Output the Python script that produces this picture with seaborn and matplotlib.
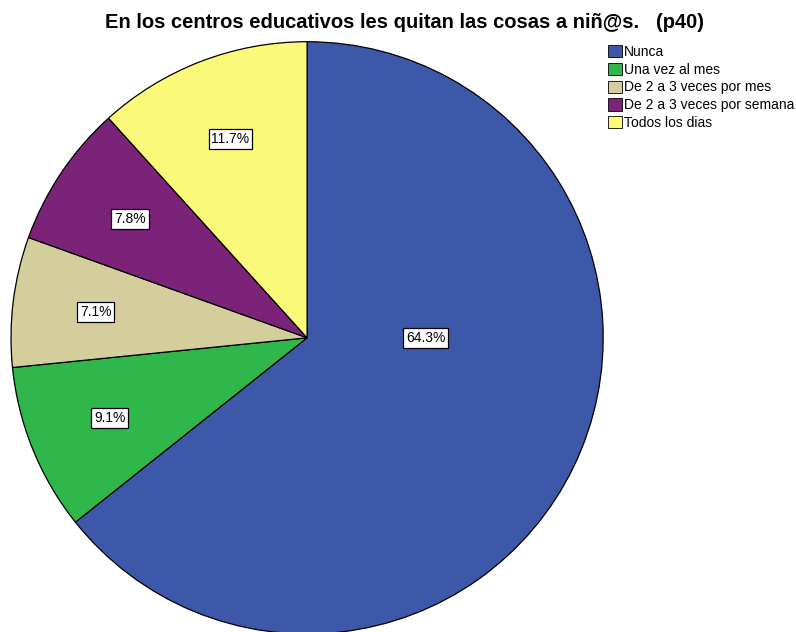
import matplotlib
matplotlib.use("Agg")
import matplotlib.pyplot as plt
import seaborn as sns
from matplotlib.patches import Patch

sns.set_theme(style="white")
plt.rcParams['font.family'] = ['Liberation Sans', 'DejaVu Sans']
plt.rcParams['text.color'] = 'black'

categories = ["Nunca", "Una vez al mes", "De 2 a 3 veces por mes",
              "De 2 a 3 veces por semana", "Todos los dias"]
percentages = [64.3, 9.1, 7.1, 7.8, 11.7]
colors = ["#3D58A9", "#2FB74C", "#D4CE9D", "#7A2379", "#FAF979"]
title = "En los centros educativos les quitan las cosas a niñ@s.   (p40)"

fig = plt.figure(figsize=(7.96, 6.32), dpi=100)
ax = fig.add_axes([0.0138, -0.003, 0.744, 0.937])

wedges, texts, autotexts = ax.pie(
    percentages, colors=colors, startangle=90, counterclock=False,
    autopct="%.1f%%", pctdistance=0.72, radius=1.0,
    wedgeprops=dict(edgecolor="black", linewidth=0.9),
    textprops=dict(fontsize=10, color="black"),
)
for t in autotexts:
    t.set_bbox(dict(boxstyle="square,pad=0.2", facecolor="white",
                    edgecolor="black", linewidth=0.9))
autotexts[0].set_position((0.40, 0.0))

ax.set_xlim(-1, 1)
ax.set_ylim(-1, 1)
ax.set_aspect("equal")
ax.axis("off")

fig.text(405 / 796, 1 - 22 / 632, title, ha="center", va="center",
         fontsize=14.5, fontweight="bold", color="black")

handles = [Patch(facecolor=c, edgecolor="black", linewidth=0.6) for c in colors]
fig.legend(handles, categories, loc="upper left",
           bbox_to_anchor=(608 / 796, 1 - 45 / 632), frameon=False,
           fontsize=10, handlelength=1.0, handleheight=1.0,
           handletextpad=0.15, labelspacing=0.27, borderpad=0, borderaxespad=0)

fig.savefig("out.png", dpi=100)
